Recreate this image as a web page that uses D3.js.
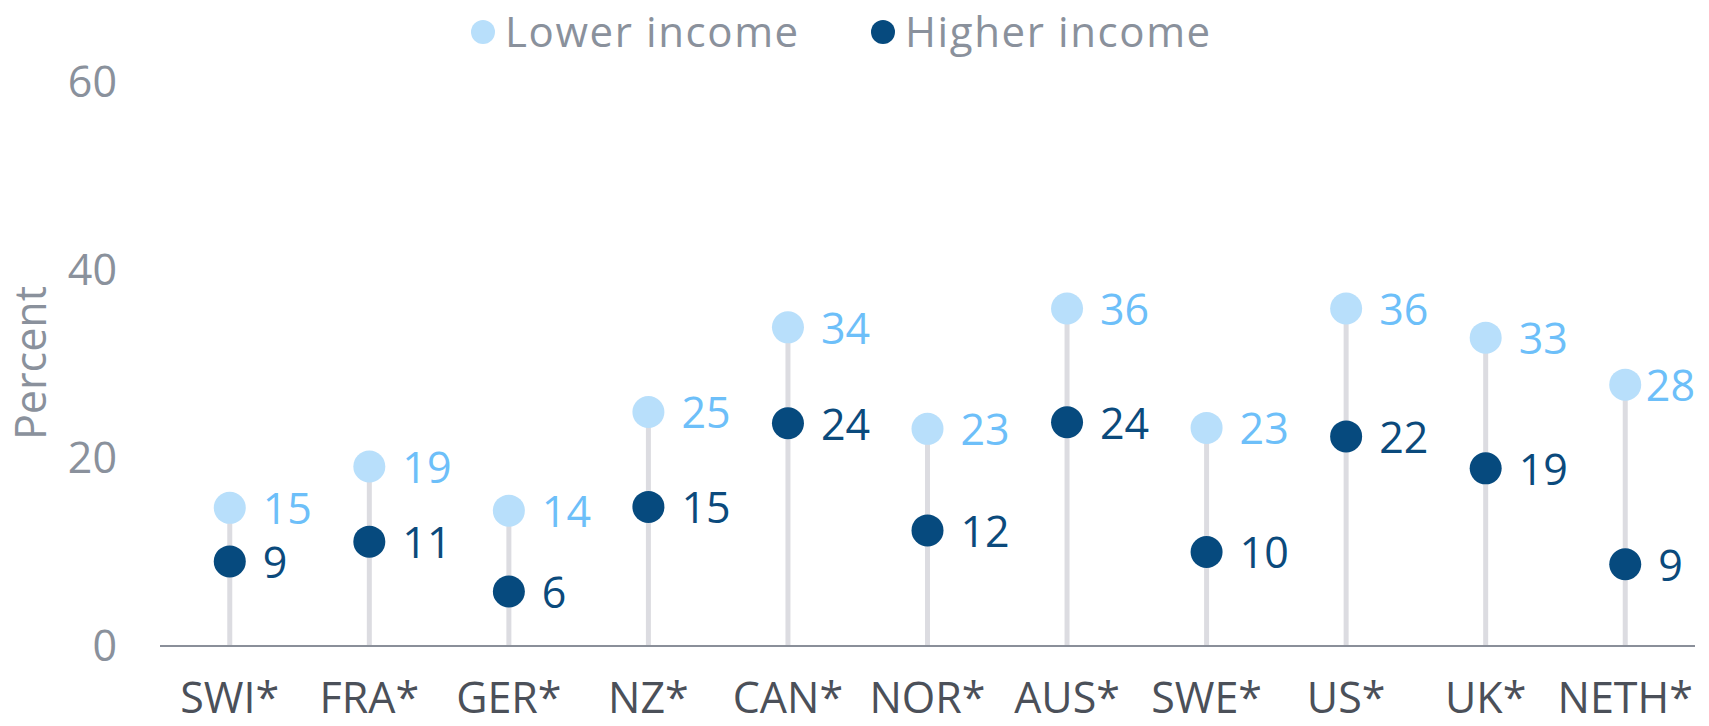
<!DOCTYPE html>
<html>
<head>
<meta charset="utf-8">
<script src="https://cdn.jsdelivr.net/npm/d3@7"></script>
<style>
  body { margin: 0; background: #fff; }
  svg text { font-family: "Open Sans", sans-serif; }
</style>
</head>
<body>
<svg width="1709" height="726"></svg>
<script>
const countries = ["SWI*", "FRA*", "GER*", "NZ*", "CAN*", "NOR*", "AUS*", "SWE*", "US*", "UK*", "NETH*"];
const lowerIncome = [14.7, 19.1, 14.4, 24.9, 33.9, 23.1, 35.9, 23.2, 35.9, 32.8, 27.8];
const higherIncome = [9.0, 11.1, 5.8, 14.8, 23.7, 12.3, 23.8, 10.0, 22.3, 18.9, 8.7];
const yTicks = [0, 20, 40, 60];
const seriesNames = ["Lower income", "Higher income"];

const svg = d3.select("svg");
const width = +svg.attr("width");

const lightDot = "#b8dffb", lightText = "#6dbff9";
const darkDot = "#064a7e", darkText = "#0b4a7c";
const greyText = "#8a919c";

const x = d3.scaleBand().domain(countries).range([160, 1695]).padding(0);
const y = d3.scaleLinear().domain([0, 60]).range([646, 82]);
const cx = d => x(d) + x.bandwidth() / 2;

const rows = countries.map((c, i) => ({c: c, lo: lowerIncome[i], hi: higherIncome[i]}));

// y tick labels
svg.append("g").selectAll("text")
    .data(yTicks)
    .enter().append("text")
    .attr("x", 117)
    .attr("y", d => y(d))
    .attr("dy", "0.36em")
    .attr("text-anchor", "end")
    .attr("font-size", 43)
    .attr("fill", greyText)
    .text(d => d);

svg.append("text")
    .attr("transform", "translate(46,363) rotate(-90)")
    .attr("text-anchor", "middle")
    .attr("font-size", 43)
    .attr("fill", greyText)
    .text("Percent");

// stems
svg.append("g").selectAll("line")
    .data(rows)
    .enter().append("line")
    .attr("x1", d => cx(d.c)).attr("x2", d => cx(d.c))
    .attr("y1", y(0)).attr("y2", d => y(Math.max(d.lo, d.hi)))
    .attr("stroke", "#dcdce1")
    .attr("stroke-width", 5);

// baseline
svg.append("line")
    .attr("x1", 160).attr("x2", 1695)
    .attr("y1", y(0)).attr("y2", y(0))
    .attr("stroke", "#8a8f99")
    .attr("stroke-width", 2);

// x labels
svg.append("g").selectAll("text")
    .data(countries)
    .enter().append("text")
    .attr("x", d => cx(d))
    .attr("y", 713)
    .attr("text-anchor", "middle")
    .attr("font-size", 43)
    .attr("fill", "#4b5059")
    .text(d => d);

function drawSeries(key, dotColor, textColor) {
    const g = svg.append("g");
    g.selectAll("circle")
        .data(rows)
        .enter().append("circle")
        .attr("cx", d => cx(d.c))
        .attr("cy", d => y(d[key]))
        .attr("r", 16)
        .attr("fill", dotColor);
    g.selectAll("text")
        .data(rows)
        .enter().append("text")
        .attr("y", d => y(d[key]))
        .attr("dy", "0.38em")
        .attr("font-size", 43)
        .attr("fill", textColor)
        .text(d => Math.round(d[key]))
        .attr("x", function(d) {
            const w = this.getComputedTextLength();
            return Math.min(cx(d.c) + 33, width - 14 - w);
        });
}
drawSeries("lo", lightDot, lightText);
drawSeries("hi", darkDot, darkText);

// legend
const legend = svg.append("g").selectAll("g")
    .data(seriesNames)
    .enter().append("g")
    .attr("transform", (d, i) => `translate(${i ? 883 : 483},32)`);
legend.append("circle").attr("r", 12).attr("fill", (d, i) => i ? darkDot : lightDot);
legend.append("text")
    .attr("x", 22).attr("dy", "0.36em")
    .attr("font-size", 42)
    .attr("letter-spacing", 1.6)
    .attr("fill", greyText)
    .text(d => d);
</script>
</body>
</html>
